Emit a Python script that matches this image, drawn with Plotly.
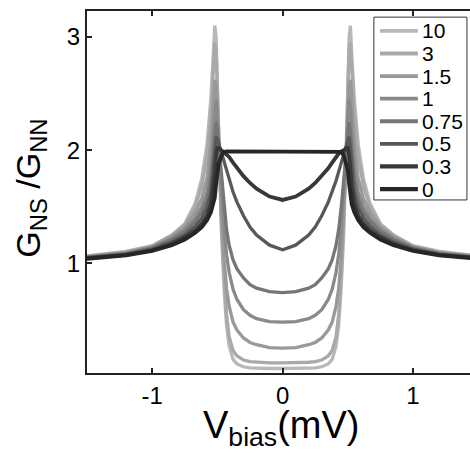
import numpy as np
import plotly.graph_objects as go

# bias voltage (mV), positive half; curves are symmetric in V
v_half = [0, 0.1, 0.2, 0.25, 0.3, 0.35, 0.38, 0.41, 0.43, 0.45, 0.47, 0.49, 0.5,
          0.51, 0.52, 0.53, 0.55, 0.58, 0.62, 0.67, 0.75, 0.85, 1.0, 1.2, 1.5]

z_labels = ["10", "3", "1.5", "1", "0.75", "0.5", "0.3", "0"]

g_z10 = [0.07, 0.07, 0.072, 0.075, 0.085, 0.11, 0.15, 0.27, 0.45, 0.8, 1.3, 2.0, 2.55,
         3.0, 3.1, 2.85, 2.45, 2.05, 1.75, 1.53, 1.35, 1.25, 1.155, 1.105, 1.065]
g_z3 = [0.12, 0.12, 0.125, 0.13, 0.145, 0.18, 0.23, 0.35, 0.55, 0.9, 1.4, 2.0, 2.5,
        2.9, 2.95, 2.7, 2.3, 1.95, 1.68, 1.5, 1.34, 1.245, 1.15, 1.10, 1.062]
g_z1p5 = [0.25, 0.255, 0.28, 0.30, 0.34, 0.41, 0.48, 0.62, 0.78, 1.05, 1.45, 1.95, 2.3,
          2.6, 2.62, 2.4, 2.05, 1.75, 1.57, 1.45, 1.32, 1.235, 1.145, 1.095, 1.058]
g_z1 = [0.48, 0.485, 0.51, 0.54, 0.59, 0.68, 0.77, 0.92, 1.08, 1.32, 1.65, 2.05, 2.3,
        2.45, 2.35, 2.15, 1.85, 1.63, 1.5, 1.4, 1.3, 1.22, 1.14, 1.09, 1.055]
g_z0p75 = [0.74, 0.75, 0.78, 0.81, 0.87, 0.95, 1.03, 1.16, 1.3, 1.5, 1.75, 2.05, 2.18,
           2.25, 2.15, 1.98, 1.74, 1.56, 1.45, 1.37, 1.28, 1.21, 1.135, 1.085, 1.052]
g_z0p5 = [1.12, 1.16, 1.25, 1.32, 1.42, 1.54, 1.63, 1.73, 1.81, 1.89, 1.97, 2.06, 2.1,
          2.12, 2.02, 1.87, 1.63, 1.49, 1.40, 1.33, 1.25, 1.19, 1.125, 1.08, 1.05]
g_z0p3 = [1.56, 1.59, 1.66, 1.71, 1.77, 1.84, 1.89, 1.94, 1.97, 1.99, 2.0, 2.02, 2.02,
          1.95, 1.8, 1.68, 1.52, 1.42, 1.35, 1.29, 1.23, 1.17, 1.115, 1.075, 1.045]
g_z0 = [1.99, 1.99, 1.99, 1.99, 1.99, 1.99, 1.99, 1.99, 1.99, 1.985, 1.95, 1.88, 1.82,
        1.7, 1.58, 1.52, 1.45, 1.38, 1.32, 1.27, 1.21, 1.16, 1.11, 1.07, 1.04]

series = [g_z10, g_z3, g_z1p5, g_z1, g_z0p75, g_z0p5, g_z0p3, g_z0]
colors = ["#b8b8b8", "#a9a9a9", "#999999", "#8a8a8a", "#767676", "#585858", "#383838", "#262626"]
widths = [3.3, 3.3, 3.3, 3.3, 3.3, 3.3, 3.8, 3.8]

vh = np.array(v_half)
v_full = np.concatenate([-vh[::-1], vh[1:]])

FONT = "Arial, Liberation Sans, sans-serif"

fig = go.Figure()
for lab, g, c, w in zip(z_labels, series, colors, widths):
    g = np.array(g)
    g_full = np.concatenate([g[::-1], g[1:]])
    fig.add_trace(go.Scatter(x=v_full, y=g_full, mode="lines", name=lab,
                             line=dict(color=c, width=w), showlegend=False))

# manual legend (box, line samples, labels) in paper coordinates
leg_x0, leg_x1, leg_y0, leg_y1 = 0.749, 0.992, 0.478, 0.983
line_x0, line_x1, text_x = 0.765, 0.864, 0.870
row_top, row_step = 0.945, 0.0624

shapes = [dict(type="rect", xref="paper", yref="paper", x0=leg_x0, x1=leg_x1,
               y0=leg_y0, y1=leg_y1, line=dict(color="#333333", width=1),
               fillcolor="white", layer="above")]
annotations = []
for i, (lab, c, w) in enumerate(zip(z_labels, colors, widths)):
    yy = row_top - i * row_step
    shapes.append(dict(type="line", xref="paper", yref="paper", x0=line_x0, x1=line_x1,
                       y0=yy, y1=yy, line=dict(color=c, width=w + 0.5), layer="above"))
    annotations.append(dict(text=lab, xref="paper", yref="paper", x=text_x, y=yy,
                            xanchor="left", yanchor="middle", showarrow=False,
                            font=dict(size=21, family=FONT, color="black")))

annotations += [
    dict(text="G<sub>NS</sub> /G<sub>NN</sub>", xref="paper", yref="paper",
         x=-0.148, y=0.51, xanchor="center", yanchor="middle", textangle=-90,
         showarrow=False, font=dict(size=34, family=FONT, color="black")),
    dict(text="V<sub>bias</sub>(mV)", xref="paper", yref="paper",
         x=0.507, y=-0.152, xanchor="center", yanchor="middle",
         showarrow=False, font=dict(size=38, family=FONT, color="black")),
]

fig.update_layout(
    width=470, height=453,
    margin=dict(l=87, r=0, t=11, b=80),
    paper_bgcolor="white", plot_bgcolor="white",
    font=dict(family=FONT, color="black"),
    showlegend=False,
    xaxis=dict(range=[-1.5, 1.437], tickvals=[-1, 0, 1], ticktext=["-1", "0", "1"],
               ticks="inside", ticklen=5, tickwidth=2, tickcolor="#222222",
               showline=True, linecolor="#222222", linewidth=2, mirror="ticks",
               showgrid=False, zeroline=False, tickfont=dict(size=24, family=FONT)),
    yaxis=dict(range=[0.03, 3.23], tickvals=[1, 2, 3], ticktext=["1", "2", "3"],
               ticks="inside", ticklen=5, tickwidth=2, tickcolor="#222222",
               showline=True, linecolor="#222222", linewidth=2, mirror=False,
               showgrid=False, zeroline=False, tickfont=dict(size=24, family=FONT)),
    shapes=shapes,
    annotations=annotations,
)

fig.write_html("out.html", config={"displayModeBar": False},
               post_script="document.body.style.margin='0';document.body.style.overflow='hidden';")
